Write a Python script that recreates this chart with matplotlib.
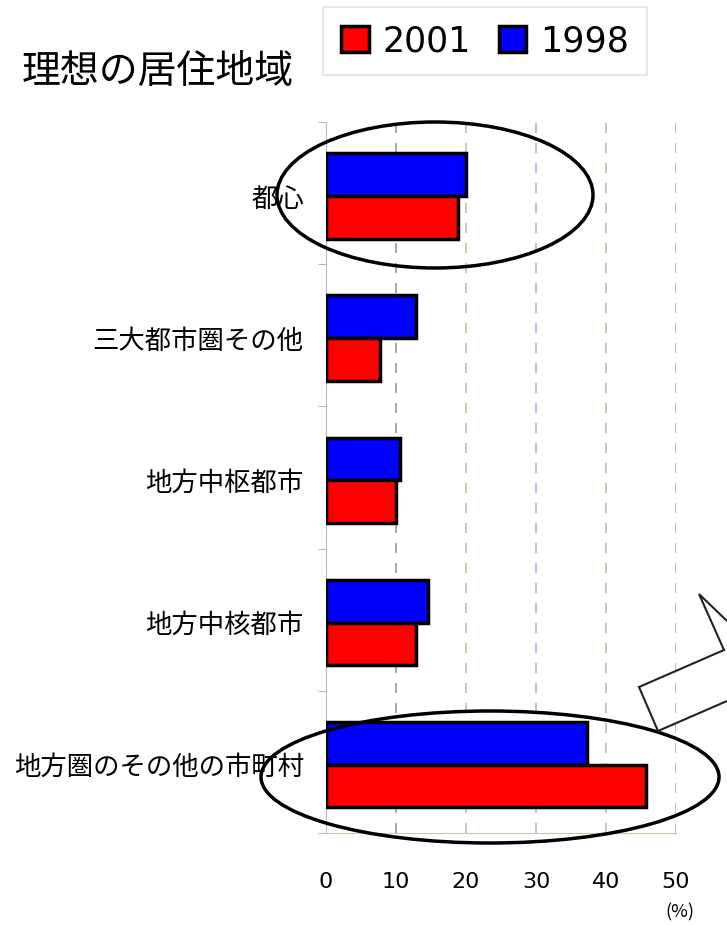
import numpy as np
import matplotlib
matplotlib.use("Agg")
import matplotlib.pyplot as plt
from matplotlib.patches import Ellipse, Polygon, Patch

plt.rcParams['font.family'] = ['Noto Sans CJK JP', 'DejaVu Sans']

# data
categories = ["都心", "三大都市圏その他", "地方中枢都市", "地方中核都市", "地方圏のその他の市町村"]
y2001 = [18.9, 7.7, 10.0, 12.9, 45.7]
y1998 = [20.0, 12.9, 10.6, 14.6, 37.3]
xticks = [0, 10, 20, 30, 40, 50]
grid_colors = ["#9a9a9a", "#c8c0a0", "#b0b0d8", "#c8b8a0", "#a8b4c4"]

W, H = 727, 925
fig = plt.figure(figsize=(W / 100, H / 100), dpi=100)
ax = fig.add_axes([326 / W, 1 - 833 / H, 350 / W, 711 / H])

pos = np.arange(len(categories))
h = 0.30
ax.barh(pos - h / 2 + 0.02, y1998, height=h, color="#0000ff", edgecolor="black", linewidth=2.5, zorder=3)
ax.barh(pos + h / 2 + 0.02, y2001, height=h, color="#ff0000", edgecolor="black", linewidth=2.5, zorder=3)

ax.set_xlim(0, 50)
ax.set_ylim(len(categories) - 0.5, -0.5)

for x, c in zip(xticks[1:], grid_colors):
    ax.axvline(x, color=c, linestyle=(0, (6, 6)), linewidth=1.2, zorder=1)

ax.set_xticks(xticks)
ax.set_xticklabels([str(v) for v in xticks], fontsize=16, family=['DejaVu Sans'])
ax.tick_params(axis='x', length=0, pad=28)
ax.set_yticks(pos + 0.02)
ax.set_yticklabels(categories, fontsize=19)
ax.tick_params(axis='y', length=0, pad=16)
ax.set_yticks(np.arange(-0.5, len(categories), 1), minor=True)
ax.tick_params(axis='y', which='minor', length=6, color="#aaaaaa", direction='out')

for s in ["top", "right"]:
    ax.spines[s].set_visible(False)
ax.spines["left"].set_color("#bbbbbb")
ax.spines["bottom"].set_color("#c8c8b0")

fig.text(22 / W, 1 - 72 / H, "理想の居住地域", fontsize=28, va="center", ha="left")
fig.text(680 / W, 1 - 912 / H, "(%)", fontsize=13, ha="center", va="center")

handles = [Patch(facecolor="#ff0000", edgecolor="black", linewidth=2.5, label="2001"),
           Patch(facecolor="#0000ff", edgecolor="black", linewidth=2.5, label="1998")]
leg = fig.legend(handles=handles, loc="center", bbox_to_anchor=(485 / W, 1 - 41 / H), ncol=2,
                 handlelength=0.8, handleheight=0.8, handletextpad=0.4,
                 columnspacing=0.8, frameon=True, fancybox=False, borderpad=0.5,
                 prop={'family': 'DejaVu Sans', 'size': 25})
leg.get_frame().set_edgecolor("#d8d8e0")
leg.get_frame().set_linewidth(1.2)

# ellipses highlighting the two categories
tr = fig.dpi_scale_trans
def px(x, y):
    return (x / 100, (H - y) / 100)

fig.patches.append(Ellipse(px(435, 195), 316 / 100, 146 / 100, transform=tr,
                           fill=False, edgecolor="black", linewidth=2.5, zorder=5))
fig.patches.append(Ellipse(px(490, 777), 458 / 100, 132 / 100, transform=tr,
                           fill=False, edgecolor="black", linewidth=2.5, zorder=5))

# callout arrow at right edge
pts = [px(727, 621), px(699, 594), px(724, 650), px(639, 687), px(658, 731), px(727, 701)]
fig.patches.append(Polygon(pts, closed=False, transform=tr, fill=False,
                           edgecolor="#222222", linewidth=1.5, zorder=5))

fig.savefig("out.png", dpi=100)
